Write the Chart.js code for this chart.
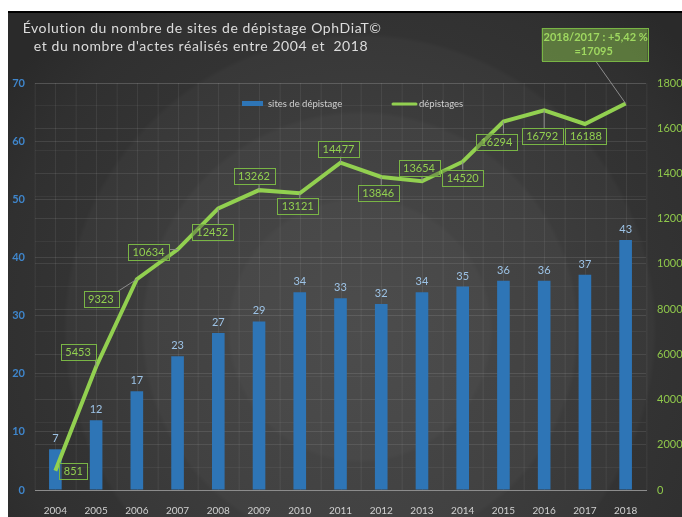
<!DOCTYPE html>
<html>
<head>
<meta charset="utf-8">
<script src="https://cdn.jsdelivr.net/npm/chart.js@4/dist/chart.umd.min.js"></script>
<style>
  html, body { margin: 0; padding: 0; background: #fff; }
  canvas { display: block; }
</style>
</head>
<body>
<canvas id="chart" width="682" height="517"></canvas>
<script>
const years = ["2004", "2005", "2006", "2007", "2008", "2009", "2010", "2011", "2012", "2013", "2014", "2015", "2016", "2017", "2018"];
const siteCounts = [7, 12, 17, 23, 27, 29, 34, 33, 32, 34, 35, 36, 36, 37, 43];
const screenings = [851, 5453, 9323, 10634, 12452, 13262, 13121, 14477, 13846, 13654, 14520, 16294, 16792, 16188, 17095];

const titleLines = [
  "Évolution du nombre de sites de dépistage OphDiaT©",
  "et du nombre d'actes réalisés entre 2004 et  2018"
];
const lastNote = ["2018/2017 : +5,42 %", "=17095"];

// décalage des étiquettes par rapport au point (px)
const labelShift = [
  [18, 0], [-18, -15], [-36, 20], [-29, 2], [-6, 24], [-5, -14], [-2, 13], [-2, -14],
  [-3, 16], [-3, -13], [0, 16], [-7, 20], [-2, 26], [1, 12], [-31, -59]
];

const FONT = "Lato, 'Open Sans', sans-serif";

const backgroundPlugin = {
  id: "bg",
  beforeDraw(chart) {
    const ctx = chart.ctx;
    const w = chart.width, h = chart.height;
    ctx.save();
    ctx.fillStyle = "#ffffff";
    ctx.fillRect(0, 0, w, h);
    const g = ctx.createRadialGradient(360, 330, 0, 360, 330, 430);
    g.addColorStop(0, "#4c4c4c");
    g.addColorStop(0.3, "#484848");
    g.addColorStop(0.31, "#444444");
    g.addColorStop(0.5, "#414141");
    g.addColorStop(0.51, "#3c3c3c");
    g.addColorStop(0.68, "#383838");
    g.addColorStop(0.69, "#333333");
    g.addColorStop(0.85, "#303030");
    g.addColorStop(1, "#2a2a2a");
    ctx.fillStyle = g;
    ctx.fillRect(8, 12, w - 8, h - 12);
    ctx.strokeStyle = "#000";
    ctx.lineWidth = 2;
    ctx.beginPath();
    ctx.moveTo(8, 12);
    ctx.lineTo(w, 12);
    ctx.stroke();

    // titre
    ctx.fillStyle = "#dcdcdc";
    ctx.font = "14px " + FONT;
    ctx.letterSpacing = "0.6px";
    ctx.textAlign = "center";
    ctx.textBaseline = "middle";
    ctx.fillText(titleLines[0], 202, 28);
    ctx.fillText(titleLines[1], 201, 46);
    ctx.restore();
  },
  beforeDatasetsDraw(chart) {
    const ctx = chart.ctx;
    const x = chart.scales.x;
    const area = chart.chartArea;
    const half = (x.getPixelForValue(1) - x.getPixelForValue(0)) / 2;
    ctx.save();
    ctx.strokeStyle = "rgba(255,255,255,0.07)";
    ctx.lineWidth = 1;
    ctx.beginPath();
    for (let i = 0; i < years.length; i++) {
      const cx = Math.round(x.getPixelForValue(i)) + 0.5;
      ctx.moveTo(cx - half, area.top); ctx.lineTo(cx - half, area.bottom);
      ctx.moveTo(cx, area.top); ctx.lineTo(cx, area.bottom);
      if (i === years.length - 1) { ctx.moveTo(cx + half, area.top); ctx.lineTo(cx + half, area.bottom); }
    }
    ctx.stroke();

    // légende
    ctx.fillStyle = "#2e75b6";
    ctx.fillRect(242, 101, 21, 5);
    ctx.strokeStyle = "#92d050";
    ctx.lineWidth = 3;
    ctx.lineCap = "round";
    ctx.beginPath();
    ctx.moveTo(393, 104); ctx.lineTo(416, 104);
    ctx.stroke();
    ctx.fillStyle = "#d0d0d0";
    ctx.font = "9.5px " + FONT;
    ctx.textBaseline = "middle";
    ctx.textAlign = "left";
    ctx.fillText(chart.data.datasets[1].label, 268, 104);
    ctx.fillText(chart.data.datasets[0].label, 419, 104);
    ctx.restore();
  }
};

const labelPlugin = {
  id: "labels",
  afterDatasetsDraw(chart) {
    const ctx = chart.ctx;
    ctx.save();
    // valeurs des barres
    const bars = chart.getDatasetMeta(1).data;
    ctx.font = "11px " + FONT;
    ctx.fillStyle = "#9dc3e6";
    ctx.textAlign = "center";
    ctx.textBaseline = "bottom";
    bars.forEach((b, i) => ctx.fillText(siteCounts[i], b.x, b.y - 5));

    // étiquettes de la courbe
    const pts = chart.getDatasetMeta(0).data;
    ctx.textBaseline = "middle";
    pts.forEach((p, i) => {
      const last = i === pts.length - 1;
      const cx = p.x + labelShift[i][0];
      const cy = p.y + labelShift[i][1];
      let bw, bh;
      if (last) {
        ctx.font = "bold 11px " + FONT;
        bw = 106; bh = 33;
      } else {
        ctx.font = "11px " + FONT;
        bw = ctx.measureText(String(screenings[i])).width + 9;
        bh = 16;
      }
      const bx = cx - bw / 2, by = cy - bh / 2;
      // trait de rappel
      const nx = Math.min(Math.max(p.x, bx), bx + bw);
      const ny = Math.min(Math.max(p.y, by), by + bh);
      if (Math.hypot(p.x - nx, p.y - ny) > 4) {
        ctx.strokeStyle = "#8c8c8c";
        ctx.lineWidth = 1;
        ctx.beginPath();
        ctx.moveTo(last ? cx + 1 : nx, ny);
        ctx.lineTo(p.x, p.y);
        ctx.stroke();
      }
      ctx.fillStyle = last ? "rgba(146,208,80,0.45)" : "rgba(60,60,60,0.35)";
      ctx.fillRect(bx, by, bw, bh);
      ctx.strokeStyle = "#79b545";
      ctx.lineWidth = 1;
      ctx.strokeRect(Math.round(bx) + 0.5, Math.round(by) + 0.5, Math.round(bw), Math.round(bh));
      if (last) {
        ctx.fillStyle = "#9fd860";
        ctx.fillText(lastNote[0], cx + 1, cy - 7);
        ctx.fillText(lastNote[1], cx - 1, cy + 7);
      } else {
        ctx.fillStyle = "#92d050";
        ctx.fillText(String(screenings[i]), cx, cy + 0.5);
      }
    });
    ctx.restore();
  }
};

new Chart(document.getElementById("chart"), {
  type: "bar",
  data: {
    labels: years,
    datasets: [
      {
        type: "line",
        label: "dépistages",
        data: screenings,
        yAxisID: "y1",
        borderColor: "#92d050",
        borderWidth: 4,
        pointRadius: 0,
        tension: 0,
        order: 0
      },
      {
        type: "bar",
        label: "sites de dépistage",
        data: siteCounts,
        yAxisID: "y",
        backgroundColor: "#2e75b6",
        barPercentage: 0.31,
        categoryPercentage: 1,
        order: 1
      }
    ]
  },
  options: {
    responsive: false,
    animation: false,
    layout: { padding: { top: 83, left: 0, right: 0, bottom: 0 } },
    plugins: {
      legend: { display: false },
      title: { display: false },
      tooltip: { enabled: false }
    },
    scales: {
      x: {
        grid: { display: false },
        border: { color: "#8c8c8c", width: 1 },
        ticks: { color: "#d0d0d0", font: { family: FONT, size: 10 }, padding: 7, maxRotation: 0 },
        afterFit(s) { s.height = 27; }
      },
      y: {
        position: "left",
        min: 0,
        max: 70,
        ticks: { stepSize: 10, color: "#3f86cc", font: { family: FONT, size: 11, weight: "bold" }, padding: 10 },
        grid: { color: "rgba(255,255,255,0.10)", drawTicks: false },
        border: { display: false },
        afterFit(s) { s.width = 35; }
      },
      y1: {
        position: "right",
        min: 0,
        max: 18000,
        ticks: {
          stepSize: 1000,
          autoSkip: false,
          callback: v => (v % 2000 === 0 ? v : ""),
          color: "#8fc84b",
          font: { family: FONT, size: 11 },
          padding: 11
        },
        grid: {
          color: c => (c.tick && c.tick.value % 2000 === 0 ? "rgba(255,255,255,0.09)" : "rgba(255,255,255,0.05)"),
          drawTicks: false
        },
        border: { display: false },
        afterFit(s) { s.width = 36; }
      }
    }
  },
  plugins: [backgroundPlugin, labelPlugin]
});
</script>
</body>
</html>
